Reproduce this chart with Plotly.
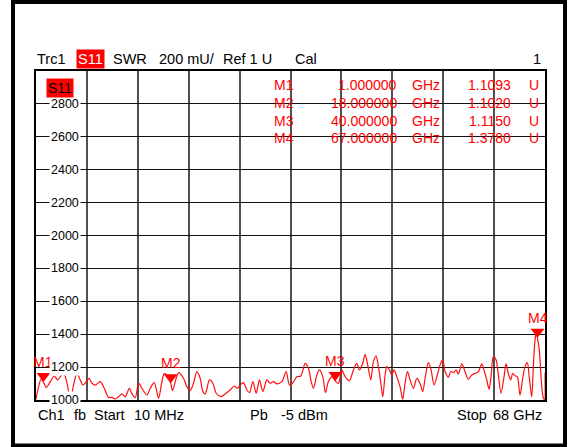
import plotly.graph_objects as go

# ---------------- data ----------------
freq_ghz = [0.01, 0.36, 0.68, 1.00, 1.39, 1.92, 2.45, 2.89, 3.69, 4.15, 4.59, 5.03, 5.48, 5.92, 6.28,
            6.73, 7.09, 7.49, 7.93, 8.59, 9.13, 9.70, 10.16, 10.60, 11.04, 11.49, 11.93, 12.47, 12.83,
            13.27, 13.71, 14.16, 14.83, 15.27, 15.80, 16.38, 16.83, 17.14, 17.50, 18.00, 18.25, 19.05,
            19.71, 20.17, 20.61, 21.05, 21.50, 21.94, 22.30, 22.61, 23.19, 23.64, 24.08, 24.71, 25.28,
            25.95, 26.48, 26.92, 27.28, 27.72, 28.18, 28.53, 28.98, 29.42, 29.86, 30.31, 30.85, 31.29,
            31.73, 32.18, 32.85, 33.43, 33.87, 34.32, 34.85, 35.39, 35.96, 36.40, 36.72, 37.07, 37.52,
            37.87, 38.32, 38.67, 39.07, 39.53, 40.00, 40.41, 40.86, 41.30, 41.88, 42.41, 42.86, 43.21,
            43.66, 43.97, 44.28, 44.73, 45.08, 45.44, 45.75, 46.07, 46.33, 46.64, 46.87, 47.22, 47.54,
            47.84, 48.20, 48.64, 49.00, 49.31, 49.62, 49.98, 50.42, 50.87, 51.31, 51.67, 51.98, 52.42,
            52.78, 53.18, 53.62, 53.98, 54.34, 54.65, 55.09, 55.41, 55.76, 56.12, 56.43, 56.88, 57.32,
            57.76, 58.22, 58.66, 59.10, 59.55, 59.90, 60.22, 60.53, 60.79, 61.10, 61.46, 61.77, 62.13,
            62.53, 62.80, 63.10, 63.42, 63.69, 64.00, 64.30, 64.66, 65.02, 65.33, 65.64, 65.91, 66.23,
            66.44, 66.67, 66.89, 67.00, 67.24, 67.47, 67.69, 67.87, 67.95, 68.00]
swr_mu = [1005, 1081, 1126, 1109, 1076, 1112, 1146, 1122, 1166, 1102, 1004, 1091, 1162, 1122, 1091,
          1112, 1132, 1102, 1091, 1112, 1071, 1016, 1016, 1006, 1020, 1037, 1020, 1071, 1037,
          1014, 1102, 1071, 1030, 1071, 1106, 1010, 1112, 1160, 1150, 1102, 1057, 1166,
          1132, 1081, 1057, 1102, 1172, 1132, 1051, 1037, 1122, 1102, 1041, 1020, 1037,
          1061, 1085, 1071, 1091, 1106, 1061, 1045, 1112, 1041, 1122, 1051, 1122, 1102,
          1112, 1098, 1112, 1172, 1091, 1105, 1142, 1146, 1223, 1193, 1122, 1071, 1152,
          1183, 1142, 1045, 1112, 1140, 1115, 1100, 1183, 1142, 1118, 1183, 1223, 1183,
          1223, 1278, 1223, 1122, 1233, 1268, 1203, 1102, 1020, 1152, 1203, 1183, 1152,
          1183, 1142, 1081, 1004, 1102, 1172, 1122, 1071, 1132, 1101, 1051, 1132, 1227,
          1183, 1091, 1152, 1213, 1244, 1173, 1138, 1173, 1166, 1183, 1158, 1219, 1173,
          1126, 1152, 1162, 1173, 1219, 1173, 1122, 1065, 1142, 1264, 1244, 1152, 1041,
          1142, 1219, 1162, 1122, 1162, 1148, 1142, 1030, 1132, 1203, 1227, 1132, 1020,
          1203, 1365, 1420, 1378, 1305, 1142, 1030, 1005, 1000, 1165]

marker_names = ["M1", "M2", "M3", "M4"]
marker_freq_ghz = [1.0, 18.0, 40.0, 67.0]
marker_swr_u = [1.1093, 1.1020, 1.1150, 1.3780]
marker_freq_text = ["1.000000", "18.000000", "40.000000", "67.000000"]
marker_val_text = ["1.1093", "1.1020", "1.1150", "1.3780"]

y_tick_values = [1000, 1200, 1400, 1600, 1800, 2000, 2200, 2400, 2600, 2800]
y_tick_labels = ["1000", "1200", "1400", "1600", "1800", "2000", "2200", "2400", "2600", "2800"]

x_start, x_stop = 0.01, 68.0
y_min, y_max = 1000, 3000

# ---------------- layout helpers ----------------
W, H = 569, 447
L, R, T, B = 36, 24, 71, 47
PW, PH = W - L - R, H - T - B
FONT = "Liberation Sans, Arial, sans-serif"
RED = "#ff0000"


def px(xp):
    return (xp - L) / PW


def py(yp):
    return (H - B - yp) / PH


fig = go.Figure()

fig.add_trace(go.Scatter(x=freq_ghz, y=swr_mu, mode="lines",
                         line=dict(color="#ff1010", width=1.2, shape="spline", smoothing=0.8),
                         hoverinfo="skip", showlegend=False, cliponaxis=True))

# marker triangles: tip at value (triangle-down tip is size/2 below centre)
tri_size = 12
units_per_px = (y_max - y_min) / PH
marker_mu = [v * 1000 for v in marker_swr_u]
fig.add_trace(go.Scatter(x=marker_freq_ghz,
                         y=[m + (tri_size / 2) * units_per_px for m in marker_mu],
                         mode="markers",
                         marker=dict(symbol="triangle-down", size=tri_size, color=RED,
                                     line=dict(width=0)),
                         hoverinfo="skip", showlegend=False))

annotations = []
for name, f, m in zip(marker_names, marker_freq_ghz, marker_mu):
    annotations.append(dict(x=f, y=m, xref="x", yref="y", text=name, showarrow=False,
                            yshift=20, font=dict(family=FONT, size=14, color=RED)))

# y tick labels with white background over grid lines
for v, lab in zip(y_tick_values, y_tick_labels):
    annotations.append(dict(x=px(81), y=v, xref="paper", yref="y", text=lab, showarrow=False,
                            xanchor="right", yanchor="middle", bgcolor="white", borderpad=1,
                            font=dict(family=FONT, size=12.5, color="black")))

# header
hy = py(59)
header = [("Trc1", 35, "black", None), ("S11", 76, "white", RED), ("SWR", 111, "black", None),
          ("200 mU/", 157, "black", None), ("Ref 1 U", 221, "black", None),
          ("Cal", 293, "black", None)]
for txt, x0, col, bg in header:
    a = dict(x=px(x0), y=hy, xref="paper", yref="paper", text=txt, showarrow=False,
             xanchor="left", yanchor="middle", font=dict(family=FONT, size=14.5, color=col))
    if bg:
        a["bgcolor"] = bg
        a["borderpad"] = 1
    annotations.append(a)
annotations.append(dict(x=px(543), y=hy, xref="paper", yref="paper", text="1", showarrow=False,
                        xanchor="right", yanchor="middle",
                        font=dict(family=FONT, size=14.5, color="black")))

# S11 tag inside the grid
annotations.append(dict(x=px(46), y=py(87.5), xref="paper", yref="paper", text="S11",
                        showarrow=False, xanchor="left", yanchor="middle", bgcolor=RED,
                        borderpad=1, font=dict(family=FONT, size=14, color="black")))

# marker table
row_y = [85, 103, 120.5, 138]
for name, ft, vt, ry in zip(marker_names, marker_freq_text, marker_val_text, row_y):
    yy = py(ry)
    f = dict(family=FONT, size=14, color=RED)
    annotations += [
        dict(x=px(296), y=yy, xref="paper", yref="paper", text=name, showarrow=False,
             xanchor="right", yanchor="middle", font=f),
        dict(x=px(399), y=yy, xref="paper", yref="paper", text=ft, showarrow=False,
             xanchor="right", yanchor="middle", font=f),
        dict(x=px(410), y=yy, xref="paper", yref="paper", text="GHz", showarrow=False,
             xanchor="left", yanchor="middle", font=f),
        dict(x=px(513), y=yy, xref="paper", yref="paper", text=vt, showarrow=False,
             xanchor="right", yanchor="middle", font=f),
        dict(x=px(527), y=yy, xref="paper", yref="paper", text="U", showarrow=False,
             xanchor="left", yanchor="middle", font=f),
    ]

# footer
fy = py(415)
footer = [("Ch1", 36, "left"), ("fb", 72, "left"), ("Start", 92, "left"), ("10 MHz", 132, "left"),
          ("Pb", 248, "left"), ("-5 dBm", 279, "left"), ("Stop", 455, "left"),
          ("68 GHz", 544, "right")]
for txt, x0, anc in footer:
    annotations.append(dict(x=px(x0), y=fy, xref="paper", yref="paper", text=txt, showarrow=False,
                            xanchor=anc, yanchor="middle",
                            font=dict(family=FONT, size=14.5, color="black")))

shapes = [dict(type="rect", xref="paper", yref="paper", x0=px(13), x1=px(565), y0=py(2),
               y1=py(445.5), line=dict(color="black", width=4), layer="above")]

fig.update_layout(
    width=W, height=H,
    margin=dict(l=L, r=R, t=T, b=B, pad=0, autoexpand=False),
    paper_bgcolor="white", plot_bgcolor="white",
    showlegend=False,
    annotations=annotations,
    shapes=shapes,
    xaxis=dict(range=[x_start, x_stop], tick0=x_start, dtick=(x_stop - x_start) / 10,
               showgrid=True, gridcolor="#505050", gridwidth=1.6, showticklabels=False,
               ticks="", zeroline=False, showline=True, linecolor="black", linewidth=1.5,
               mirror=True, fixedrange=True),
    yaxis=dict(range=[y_min, y_max], tick0=y_min, dtick=200, showgrid=True,
               gridcolor="#111111", gridwidth=1.3, showticklabels=False, ticks="",
               zeroline=False, showline=True, linecolor="black", linewidth=1.5, mirror=True,
               fixedrange=True),
)

fig.write_html("out.html", config={"displayModeBar": False},
               post_script="document.body.style.margin='0';document.body.style.overflow='hidden';")
